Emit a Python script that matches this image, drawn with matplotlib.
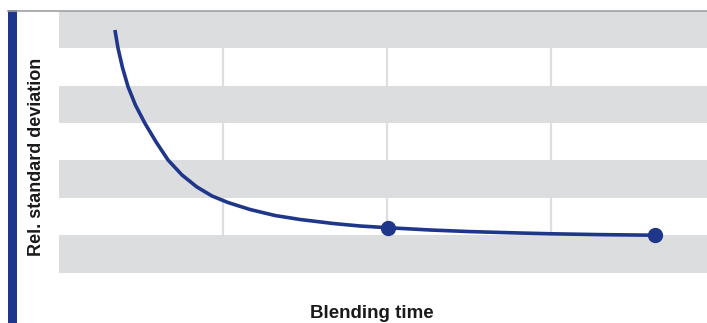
import matplotlib.pyplot as plt
from matplotlib.patches import Rectangle
from matplotlib.lines import Line2D

# curve (blending time vs. relative std deviation)
blend_time = [0.341, 0.360, 0.387, 0.421, 0.466, 0.524, 0.591, 0.665, 0.750,
              0.841, 0.933, 1.030, 1.165, 1.317, 1.470, 1.671, 1.835, 2.006,
              2.262, 2.506, 2.811, 3.006, 3.299, 3.634]
rel_std = [6.491, 6.001, 5.487, 4.973, 4.483, 3.994, 3.501, 3.011, 2.610,
           2.289, 2.048, 1.874, 1.686, 1.526, 1.419, 1.312, 1.245, 1.199,
           1.138, 1.095, 1.057, 1.036, 1.014, 0.998]
marker_time = [2.006, 3.634]
marker_rsd = [1.199, 0.998]
grey_bands = [(0, 1), (2, 3), (4, 5), (6, 7)]
grid_x = [1, 2, 3]

navy = "#1f378a"
band = "#dcdddf"

fig = plt.figure(figsize=(7.07, 3.23), dpi=100)
W, H = 707, 323
ax = fig.add_axes([59 / W, (H - 272.5) / H, (707 - 59) / W, (272.5 - 11) / H])

for lo, hi in grey_bands:
    ax.axhspan(lo, hi, color=band, lw=0, zorder=1)
for gx in grid_x:
    ax.axvline(gx, color="#dedede", lw=1.6, zorder=0.5)

ax.plot(blend_time, rel_std, color=navy, lw=2.6, solid_capstyle="butt",
        solid_joinstyle="round", zorder=3)
ax.plot(marker_time, marker_rsd, "o", color=navy, ms=10, zorder=4)

ax.set_xlim(0, (707 - 59) / 164)
ax.set_ylim(0, 7)
ax.set_xticks([])
ax.set_yticks([])
for s in ax.spines.values():
    s.set_visible(False)

# left accent bar and thin top rule
fig.patches.append(Rectangle((8 / W, 0), 9 / W, (H - 10) / H, transform=fig.transFigure,
                             color=navy, lw=0))
fig.lines.append(Line2D([8 / W, 1], [(H - 10.5) / H] * 2, transform=fig.transFigure,
                        color="#a0a0a0", lw=1.2))

fig.text(37 / W, (H - 157) / H, "Rel. standard deviation", rotation=90,
         ha="center", va="center", fontsize=13, fontweight="bold",
         family=["Liberation Sans", "DejaVu Sans"], color="#1a1a1a")
fig.text(372 / W, (H - 313) / H, "Blending time", ha="center", va="center",
         fontsize=13.5, fontweight="bold",
         family=["Liberation Sans", "DejaVu Sans"], color="#1a1a1a")

fig.savefig("out.png", dpi=100)
